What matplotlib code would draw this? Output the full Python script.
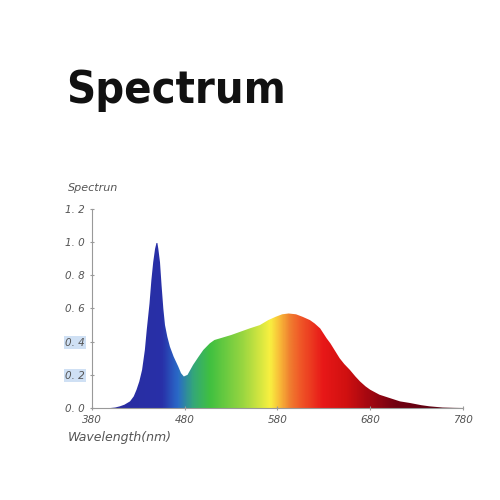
import numpy as np
import matplotlib
matplotlib.use("Agg")
import matplotlib.pyplot as plt
from matplotlib.colors import LinearSegmentedColormap
from matplotlib.patches import Polygon
from matplotlib import font_manager as fm

# ---- data ----
wavelength = [380, 400, 405, 410, 415, 421, 425, 428, 431, 434, 437, 439, 442, 444,
              446, 448, 449.5, 450.5, 451.5, 453.3, 455, 456.9, 458.7, 461.2, 464, 468,
              473, 476, 479, 483, 489, 495, 500, 507, 512, 518, 530, 540, 550, 561,
              570, 578, 585, 592, 600, 607, 615, 620, 626, 633, 637, 642, 647, 652,
              658, 664, 669, 675, 680, 690, 701, 712, 723, 735, 744, 758, 770, 780]
intensity = [0, 0, 0.003, 0.01, 0.02, 0.04, 0.07, 0.11, 0.16, 0.23, 0.35, 0.47, 0.63, 0.77,
             0.88, 0.96, 0.995, 0.995, 0.96, 0.88, 0.74, 0.60, 0.50, 0.43, 0.37, 0.31,
             0.25, 0.21, 0.19, 0.20, 0.26, 0.31, 0.35, 0.39, 0.41, 0.42, 0.44, 0.46, 0.48, 0.50,
             0.53, 0.55, 0.565, 0.57, 0.565, 0.55, 0.53, 0.51, 0.48, 0.42, 0.39, 0.345, 0.30,
             0.265, 0.23, 0.19, 0.16, 0.13, 0.11, 0.08, 0.06, 0.04, 0.03, 0.017, 0.01, 0.003,
             0.001, 0]
x_ticks = [380, 480, 580, 680, 780]
y_ticks = [0.0, 0.2, 0.4, 0.6, 0.8, 1.0, 1.2]
y_tick_labels = ["0. 0", "0. 2", "0. 4", "0. 6", "0. 8", "1. 0", "1. 2"]
title = "Spectrum"
y_label = "Spectrun"
x_label = "Wavelength(nm)"

# colour stops along the spectrum (wavelength, colour)
stops = [(380, "#2a2a9c"), (455, "#2830a8"), (472, "#2a6ac8"), (489, "#34a878"),
         (507, "#40c040"), (543, "#9ad640"), (572, "#f8f040"), (583, "#f8b838"),
         (593, "#f08030"), (604, "#f05a28"), (629, "#e81818"), (655, "#d01010"),
         (676, "#a80810"), (709, "#700010"), (780, "#500010")]

lo, hi = 380, 780
cmap = LinearSegmentedColormap.from_list(
    "spec", [((w - lo) / (hi - lo), c) for w, c in stops])

fig = plt.figure(figsize=(5, 5), dpi=100)
ax = fig.add_axes([0.184, 0.184, 0.742, 0.398])
ax.set_xlim(lo, hi)
ax.set_ylim(0, 1.2)

grad = np.linspace(0, 1, 800).reshape(1, -1)
im = ax.imshow(grad, cmap=cmap, aspect="auto", extent=[lo, hi, 0, 1.2],
               origin="lower", interpolation="bilinear", zorder=1)
verts = list(zip(wavelength, intensity)) + [(hi, 0), (lo, 0)]
poly = Polygon(verts, closed=True, facecolor="none", edgecolor="none",
               transform=ax.transData)
ax.add_patch(poly)
im.set_clip_path(poly)

gray = "#555555"
for s in ["top", "right"]:
    ax.spines[s].set_visible(False)
for s in ["left", "bottom"]:
    ax.spines[s].set_color("#999999")
    ax.spines[s].set_linewidth(0.8)

ax.set_xticks(x_ticks)
ax.set_xticklabels([str(t) for t in x_ticks])
ax.set_yticks(y_ticks)
ax.set_yticklabels(y_tick_labels)
ax.tick_params(axis="both", colors="#999999", length=3, width=0.8,
               labelcolor=gray, labelsize=7.5, direction="inout")
for lab in ax.get_xticklabels() + ax.get_yticklabels():
    lab.set_fontstyle("italic")
for lab in ax.get_yticklabels():
    if lab.get_text() in ("0. 2", "0. 4"):
        lab.set_bbox(dict(facecolor="#cfe0f4", edgecolor="none", pad=1.0))

fig.text(68 / 500, 1 - 188 / 500, y_label, fontsize=8, style="italic",
         color=gray, va="center", ha="left")
fig.text(68 / 500, 1 - 438 / 500, x_label, fontsize=9, style="italic",
         color=gray, va="center", ha="left")

# pick a condensed bold font if one is installed
title_family = "Liberation Sans"
title_stretch = "normal"
for fam, st in [("Liberation Sans Narrow", "condensed"), ("DejaVu Sans", "condensed")]:
    try:
        path = fm.findfont(fm.FontProperties(family=fam, weight="bold", stretch=st),
                           fallback_to_default=False)
        if "Narrow" in path or "Condensed" in path:
            title_family, title_stretch = fam, st
            break
    except Exception:
        pass

t = fig.text(66 / 500, 1 - 103 / 500, title, fontsize=40, fontweight="bold",
             family=title_family, stretch=title_stretch, color="#111111",
             va="baseline", ha="left")
fig.canvas.draw()
w = t.get_window_extent().width
t.set_fontsize(40 * 220 / w)

fig.savefig("out.png", dpi=100, facecolor="white")
